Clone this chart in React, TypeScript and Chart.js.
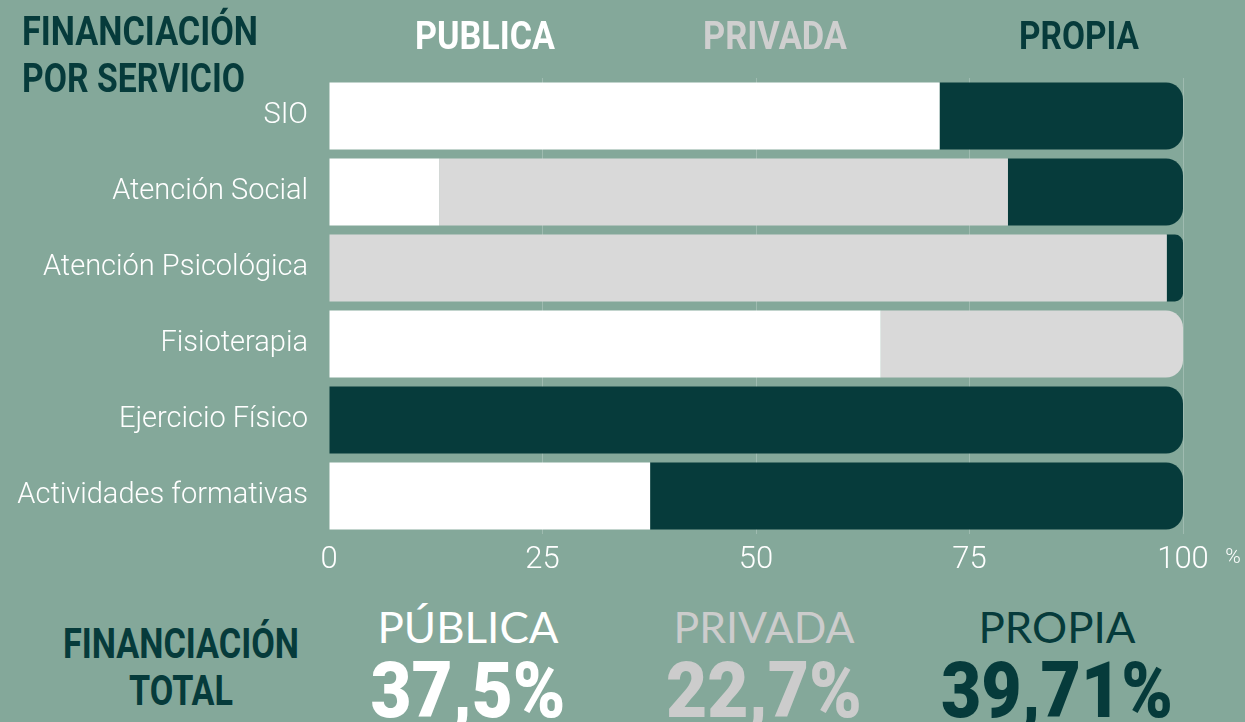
import React, { useEffect, useRef } from "react";
import { Chart, registerables } from "chart.js";

Chart.register(...registerables);

const categories = [
  "SIO",
  "Atención Social",
  "Atención Psicológica",
  "Fisioterapia",
  "Ejercicio Físico",
  "Actividades formativas",
];
const publica = [71.5, 12.9, 0, 64.6, 0, 37.6];
const privada = [0, 66.6, 98.1, 35.4, 0, 0];
const propia = [28.5, 20.5, 1.9, 0, 100, 62.4];
const xTicks = [0, 25, 50, 75, 100];

const seriesNames = ["PUBLICA", "PRIVADA", "PROPIA"];
const totalNames = ["PÚBLICA", "PRIVADA", "PROPIA"];
const totalValues = ["37,5%", "22,7%", "39,71%"];

const BG = "#84a89a";
const DARK = "#063b3b";
const WHITE = "#ffffff";
const GRAY = "#d9d9d9";
const GRAY_TXT = "#cfcfcf";

let measureCtx: CanvasRenderingContext2D | null = null;
function measure(text: string, font: string): number {
  if (!measureCtx) {
    const c = document.createElement("canvas");
    measureCtx = c.getContext("2d");
  }
  if (!measureCtx) return 0;
  measureCtx.font = font;
  return measureCtx.measureText(text).width;
}

function Txt(props: {
  x: number;
  y: number;
  size: number;
  color: string;
  family: string;
  weight: number;
  width?: number;
  align?: "left" | "center";
  children: string;
}) {
  const { x, y, size, color, family, weight, width, align = "center", children } = props;
  let sx = 1;
  if (width) {
    const w = measure(children, `${weight} ${size}px ${family}`);
    if (w > 0) sx = width / w;
  }
  const tx = align === "center" ? "-50%" : "0";
  return (
    <div
      style={{
        position: "absolute",
        left: x,
        top: y,
        transform: `translate(${tx}, -50%) scaleX(${sx})`,
        transformOrigin: align === "center" ? "center center" : "left center",
        fontFamily: family,
        fontWeight: weight,
        fontSize: size,
        lineHeight: 1,
        color,
        whiteSpace: "nowrap",
      }}
    >
      {children}
    </div>
  );
}

export default function App() {
  const ref = useRef<HTMLCanvasElement | null>(null);

  useEffect(() => {
    if (!ref.current) return;
    const chart = new Chart(ref.current, {
      type: "bar",
      data: {
        labels: categories,
        datasets: [
          { label: seriesNames[0], data: publica, backgroundColor: WHITE },
          { label: seriesNames[1], data: privada, backgroundColor: GRAY },
          { label: seriesNames[2], data: propia, backgroundColor: DARK },
        ].map((d) => ({
          ...d,
          borderWidth: 0,
          borderRadius: 17,
          borderSkipped: "start" as const,
          categoryPercentage: 1,
          barPercentage: 0.88,
        })),
      },
      options: {
        indexAxis: "y",
        responsive: false,
        animation: false,
        layout: { padding: { top: 78, right: 62, left: 0, bottom: 0 } },
        plugins: { legend: { display: false }, tooltip: { enabled: false } },
        scales: {
          x: {
            stacked: true,
            min: 0,
            max: 100,
            afterBuildTicks: (scale: any) => {
              scale.ticks = xTicks.map((v) => ({ value: v }));
            },
            afterFit: (scale: any) => {
              scale.height = 56;
            },
            grid: {
              drawTicks: false,
              color: (ctx: any) =>
                ctx.tick && ctx.tick.value === 0 ? "rgba(0,0,0,0)" : "rgba(255,255,255,0.22)",
              lineWidth: 1,
            },
            border: { display: false },
            ticks: {
              color: WHITE,
              padding: 8,
              font: { family: "Roboto", weight: 300 as any, size: 31 },
            },
          },
          y: {
            stacked: true,
            afterFit: (scale: any) => {
              scale.width = 329;
            },
            grid: { display: false, drawTicks: false },
            border: { display: false },
            ticks: {
              color: WHITE,
              padding: 21,
              font: { family: "Roboto", weight: 300 as any, size: 29 },
            },
          },
        },
      },
    });
    return () => chart.destroy();
  }, []);

  const legendX = [485, 775, 1079];
  const legendW = [140, 144, 120];
  const legendColors = [WHITE, GRAY_TXT, DARK];
  const totalX = [468, 764, 1057];
  const totalNameW = [181, 181, 157];
  const totalValW = [195, 196, 232];
  const totalColors = [WHITE, "#cccccc", DARK];
  const HF = "Roboto";

  return (
    <div
      style={{
        position: "fixed",
        left: 0,
        top: 0,
        width: 1245,
        height: 722,
        background: BG,
        overflow: "hidden",
      }}
    >
      <canvas ref={ref} width={1245} height={590} style={{ position: "absolute", left: 0, top: 0 }} />
      <Txt x={22} y={30.5} size={41} color={DARK} family={HF} weight={700} width={236} align="left">
        FINANCIACIÓN
      </Txt>
      <Txt x={22} y={77.5} size={41} color={DARK} family={HF} weight={700} width={223} align="left">
        POR SERVICIO
      </Txt>
      {seriesNames.map((n, i) => (
        <Txt key={n} x={legendX[i]} y={35.5} size={38} color={legendColors[i]} family={HF} weight={700} width={legendW[i]}>
          {n}
        </Txt>
      ))}
      <Txt x={1233} y={556} size={21} color={WHITE} family="Roboto" weight={300}>
        %
      </Txt>
      <Txt x={181} y={644} size={42} color={DARK} family={HF} weight={700} width={236}>
        FINANCIACIÓN
      </Txt>
      <Txt x={181} y={691} size={42} color={DARK} family={HF} weight={700} width={104}>
        TOTAL
      </Txt>
      {totalNames.map((n, i) => (
        <Txt key={n} x={totalX[i]} y={627} size={42} color={totalColors[i]} family="Lato" weight={400} width={totalNameW[i]}>
          {n}
        </Txt>
      ))}
      {totalValues.map((v, i) => (
        <Txt key={v} x={totalX[i]} y={691} size={78} color={totalColors[i]} family="Roboto" weight={900} width={totalValW[i]}>
          {v}
        </Txt>
      ))}
    </div>
  );
}
